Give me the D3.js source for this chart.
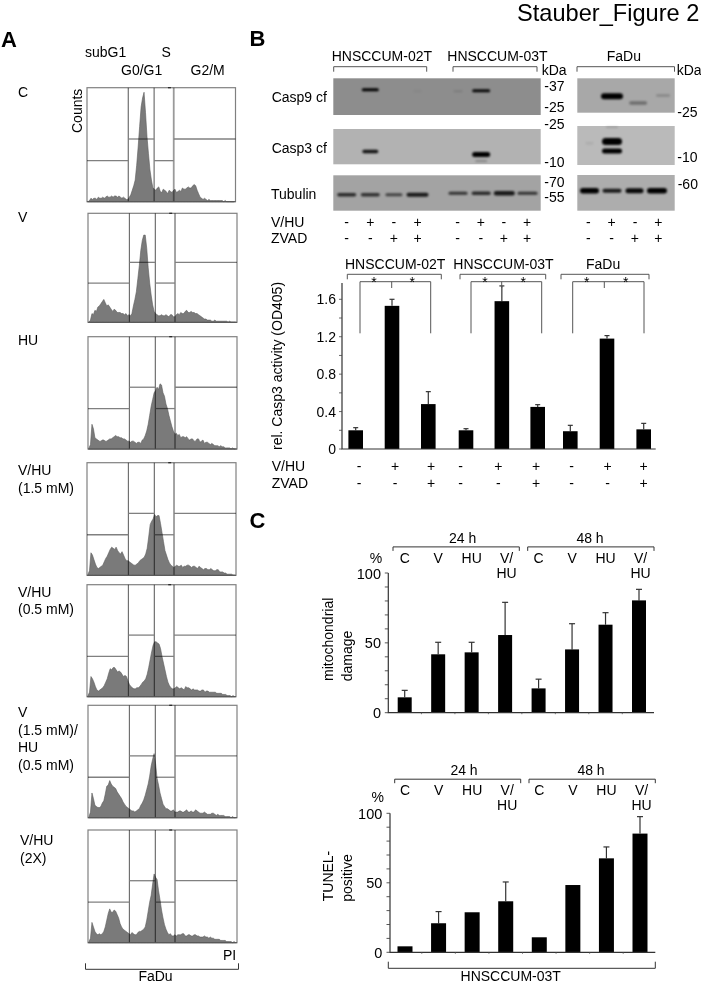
<!DOCTYPE html>
<html><head><meta charset="utf-8">
<script src="https://cdn.jsdelivr.net/npm/d3@7"></script>
<style>
html,body{margin:0;padding:0;background:#fff}
svg{display:block;filter:blur(0.3px)}
text{font-family:"Liberation Sans",Arial,sans-serif;fill:#000}
</style></head><body>
<svg id="fig" width="701" height="984"></svg>
<script>
// ---------- Panel A: PI histograms (counts, % of panel height; 100 channels) ----------
const flowNames = ["C","V","HU","V/HU (1.5 mM)","V/HU (0.5 mM)","V (1.5 mM)/HU (0.5 mM)","V/HU (2X)"];
const histC   = [0,1,3,2,3,3,2,4,3,3,4,3,4,5,4,4,5,4,5,5,4,5,4,3,4,3,2,2,4,6,10,14,19,32,48,66,83,91,96,78,57,42,28,19,12,11,10,12,13,9,8,11,10,9,7,10,9,8,10,11,8,9,10,9,12,11,11,12,13,12,12,14,15,14,10,7,4,3,2,3,2,1,2,1,1,1,1,1,1,1,1,1,0,1,0,0,0,0,0,0];
const histV   = [0,2,8,7,11,10,14,15,17,19,21,18,15,16,14,12,10,12,11,9,9,9,8,8,7,8,6,7,6,8,15,21,28,40,52,66,75,80,80,68,50,36,25,16,10,8,7,6,6,7,6,6,7,6,5,7,7,5,5,7,8,7,9,8,8,10,11,9,9,10,9,9,8,8,7,6,5,4,3,3,2,2,2,1,1,2,1,1,1,1,1,1,1,1,0,1,0,0,0,0];
const histHU  = [1,4,22,18,10,9,8,7,7,8,8,7,7,8,9,9,10,11,12,11,11,10,10,9,9,8,7,7,6,7,7,6,5,6,6,5,8,9,12,16,22,30,38,44,50,52,55,53,58,57,50,47,40,36,30,25,20,16,13,14,12,13,10,11,11,10,11,9,8,9,9,7,7,9,9,6,7,8,5,6,6,5,4,5,4,3,3,3,2,3,2,2,1,1,1,1,0,1,0,0];
const histVH15= [1,4,20,18,14,10,7,6,7,8,9,12,15,17,20,23,25,24,23,25,22,20,19,21,18,15,13,13,12,11,10,9,9,10,11,13,14,15,16,19,24,34,45,48,50,54,52,53,53,46,38,30,22,18,14,11,9,8,7,8,9,8,8,9,7,8,8,9,9,8,7,8,8,7,6,8,7,6,5,6,6,5,5,6,5,4,4,5,5,3,3,3,2,2,1,1,1,1,0,0];
const histVH05= [1,4,18,16,13,9,6,5,6,7,8,10,13,16,21,25,24,26,26,24,22,23,22,20,18,19,18,14,11,9,8,7,7,8,8,9,11,13,14,16,20,26,33,40,46,49,49,48,47,43,36,30,24,18,13,10,8,7,7,8,9,8,7,8,7,6,9,8,8,7,6,7,6,6,6,5,5,6,6,4,5,5,4,4,4,4,4,3,3,3,3,2,2,2,1,1,1,0,1,0];
const histV15H= [1,5,22,17,11,10,9,9,10,13,15,21,28,29,33,30,28,27,26,23,21,19,17,14,12,10,9,8,7,6,6,5,6,7,8,11,13,16,20,25,30,37,46,52,57,48,35,29,22,17,12,10,8,8,7,6,6,7,5,5,5,6,6,5,5,6,7,5,5,6,5,5,7,6,5,4,4,4,5,4,3,3,3,4,4,3,2,3,2,2,2,2,1,1,1,1,0,1,0,0];
const hist2X  = [1,4,18,14,10,8,7,8,7,8,10,14,20,26,30,27,27,29,28,25,22,17,14,12,11,10,9,8,7,9,8,7,7,9,10,10,11,12,14,20,28,36,42,52,61,58,56,46,38,29,22,16,12,9,7,8,6,6,7,6,7,7,7,8,8,6,6,7,7,6,6,7,7,6,6,5,5,5,6,5,5,4,5,4,4,3,3,3,3,2,2,2,2,1,1,1,1,0,1,0];
const gateHeights = [36,55,36,55];   // subG1, G0/G1, S, G2/M marker heights
const gateEdges = [0,27.8,45.2,58.4,100]; // % of PI axis
// ---------- Panel B: blots ----------
const laneSignsVH = ["-","+","-","+"];
const laneSignsZ  = ["-","-","+","+"];
const casp9Bands = [[0,1,0.31,17,3,1],[0,3,0.35,8,2,0.06],[1,0,0.35,9,2,0.12],[1,1,0.34,18,3,0.95],[2,1,0.52,22,6,1],[2,2.16,0.72,18,3.5,0.35],[2,3.27,0.5,14,2.5,0.2]];
const casp3Bands = [[0,1,0.64,16,3.5,0.9],[1,1,0.72,18,5,1],[1,1,0.91,12,2,0.25],[2,1,0.4,20,7,1],[2,1,0.64,20,5,1],[2,0,0.44,8,3,0.07],[2,1,0.03,12,1.5,0.18]];
const tubBands = [[0,0,0.55,19,3.5,0.75],[0,1,0.55,19,3.5,0.7],[0,2,0.55,17,3,0.6],[0,3,0.55,22,4,0.85],
 [1,0,0.51,19,3,0.7],[1,1,0.51,19,3.5,0.75],[1,2,0.51,21,4.5,0.85],[1,3,0.51,20,3,0.7],
 [2,0,0.44,19,5.5,1],[2,1,0.44,19,4,0.85],[2,2,0.44,18,5,0.95],[2,3,0.44,20,5.5,1]];
// ---------- Panel B: caspase-3 activity ----------
const activityGroups = ["HNSCCUM-02T","HNSCCUM-03T","FaDu"];
const activityValues = [[0.20,1.53,0.48],[0.20,1.58,0.45],[0.19,1.18,0.21]];
const activityErrors = [[0.228,1.60,0.613],[0.217,1.743,0.474],[0.253,1.212,0.274]];
const activitySignsVH = ["-","+","+"];
const activitySignsZ  = ["-","-","+"];
const activityTicks = [0,0.4,0.8,1.2,1.6];
// ---------- Panel C ----------
const treatments = ["C","V","HU","V/HU"];
const timeGroups = ["24 h","48 h"];
const mitoValues = [11,41.8,43.2,55.6,17.4,45.3,63,80.4];
const mitoErrors = [16,50.4,50.4,79,24,63.7,71.6,88.3];
const tunelValues = [4.3,20.9,28.8,36.7,10.8,48.4,67.6,85.4];
const tunelErrors = [null,29.3,null,50.6,null,null,75.8,97.6];
const percentTicks = [0,50,100];

const svg = d3.select("#fig");
function T(g,x,y,s,o={}){
  const t=g.append("text").attr("x",x).attr("y",y).attr("font-size",o.size||14).text(s);
  if(o.anchor)t.attr("text-anchor",o.anchor);
  if(o.weight)t.attr("font-weight",o.weight);
  if(o.rot!==undefined)t.attr("transform",`rotate(${o.rot} ${x} ${y})`);
  return t;
}
function path(g,pts,c="#4a4a4a",w=1){
  return g.append("path").attr("d",d3.line()(pts)).attr("fill","none").attr("stroke",c).attr("stroke-width",w);
}
function bracketDown(g,x0,x1,y,h,c="#555",w=1){path(g,[[x0,y+h],[x0,y],[x1,y],[x1,y+h]],c,w);}

// title + letters
T(svg,517,21.4,"Stauber_Figure 2",{size:23.6});
T(svg,1,46.5,"A",{size:22,weight:"bold"});
T(svg,249.5,45.5,"B",{size:22,weight:"bold"});
T(svg,249.5,528,"C",{size:22,weight:"bold"});

// ---------- A ----------
const A=svg.append("g");
const flowHist=[histC,histV,histHU,histVH15,histVH05,histV15H,hist2X];
const flowBox=[[87,235.5,87.7,201.7],[88,237,213.3,322.3],[88,237,336.7,449],[87,236,462.7,575.3],[87,236,584.7,696.7],[88,237,705.3,817.7],[88,237,830,942.7]];
const gateColor=["#707070","#707070","#9a9a9a"], gateWidth=[1.2,1.2,1.8];
flowHist.forEach((h,i)=>{
  const [x0,x1,y0,y1]=flowBox[i];
  const x=d3.scaleLinear().domain([0,h.length]).range([x0+1,x1]);
  const gx=d3.scaleLinear().domain([0,100]).range([x0,x1]);
  const y=d3.scaleLinear().domain([0,100]).range([y1,y0]);
  const g=A.append("g").attr("aria-label",flowNames[i]);
  g.append("rect").attr("x",x0).attr("y",y0).attr("width",x1-x0).attr("height",y1-y0).attr("fill","#fff").attr("stroke","#808080").attr("stroke-width",1.2);
  g.append("path").datum(h).attr("d",d3.area().x((d,k)=>x(k)).y0(y1).y1(d=>y(d))).attr("fill","#7a7a7a").attr("stroke","#5c5c5c").attr("stroke-width",0.6);
  const gl=g.append("g").style("mix-blend-mode","multiply");
  gateEdges.slice(1,4).forEach((e,k)=>path(gl,[[gx(e),y0],[gx(e),y1]],gateColor[k],gateWidth[k]));
  gateHeights.forEach((v,k)=>path(gl,[[gx(gateEdges[k]),y(v)],[gx(gateEdges[k+1]),y(v)]],"#808080",1.3));
  path(g,[[x0,y1],[x1,y1]],"#555",1);
  path(g,[[gx(54.5),y0],[gx(56.5),y0]],"#222",1.2);
});
const leftLabels=[[18,97,"C"],[18,222,"V"],[18,345,"HU"],[18,475,"V/HU"],[18,492.7,"(1.5 mM)"],[18,596.7,"V/HU"],[18,614,"(0.5 mM)"],[18,716.7,"V"],[18,735,"(1.5 mM)/"],[18,752.3,"HU"],[18,770,"(0.5 mM)"],[20,845,"V/HU"],[20,862.7,"(2X)"]];
leftLabels.forEach(d=>T(A,d[0],d[1],d[2]));
T(A,81.5,133,"Counts",{rot:-90});
T(A,85,56.7,"subG1");T(A,121,75,"G0/G1");T(A,161.5,56.7,"S");T(A,190.5,75,"G2/M");
T(A,223,960,"PI");
path(A,[[85.5,963.3],[85.5,969.3],[238.5,969.3],[238.5,963.3]],"#333",1);
T(A,155.5,980.8,"FaDu",{anchor:"middle"});

// ---------- B blots ----------
const B=svg.append("g");
const defs=svg.append("defs");
defs.append("filter").attr("id","bandBlur").attr("x","-30%").attr("y","-80%").attr("width","160%").attr("height","260%")
  .append("feGaussianBlur").attr("stdDeviation",0.8);
const membranes=[{x0:333.3,x1:540.7,rows:[[78.3,115,"#8d8d8d"],[129,164.3,"#b2b2b2"],[175.3,210.7,"#a3a3a3"]]},
                 {x0:577.3,x1:674.7,rows:[[78.3,112.7,"#a8a8a8"],[126,165,"#bababa"],[175,210.7,"#adadad"]]}];
membranes.forEach(m=>m.rows.forEach(r=>B.append("rect").attr("x",m.x0).attr("y",r[0]).attr("width",m.x1-m.x0).attr("height",r[1]-r[0]).attr("fill",r[2])));
const laneX=[d3.scaleLinear().domain([0,3]).range([346.7,417.5]),
             d3.scaleLinear().domain([0,3]).range([458,527.5]),
             d3.scaleLinear().domain([0,3]).range([589.5,657])];
function drawBands(bands,rowIdx){
  const g=B.append("g").attr("filter","url(#bandBlur)");
  bands.forEach(([grp,lane,mob,w,t,s])=>{
    const row=membranes[grp===2?1:0].rows[rowIdx];
    const yS=d3.scaleLinear().domain([0,1]).range([row[0],row[1]]);
    g.append("rect").attr("x",laneX[grp](lane)-w/2).attr("y",yS(mob)-t/2).attr("width",w).attr("height",t)
      .attr("rx",t/2).attr("fill","#000").attr("opacity",s);
  });
}
drawBands(casp9Bands,0);drawBands(casp3Bands,1);drawBands(tubBands,2);
T(B,331.7,60.7,"HNSCCUM-02T");T(B,447.3,60.7,"HNSCCUM-03T");T(B,606.7,60.7,"FaDu");
bracketDown(B,333.7,426.7,66.7,5);bracketDown(B,453,537,66.7,5);bracketDown(B,577,674.5,66.7,5);
T(B,541.7,75,"kDa");T(B,676.7,75,"kDa");
[[544.3,90.7,"-37"],[544.3,112.3,"-25"],[544.3,129.3,"-25"],[544.3,166.7,"-10"],[544.3,187.3,"-70"],[544.3,201.7,"-55"],
 [677.3,116.7,"-25"],[677.3,162.3,"-10"],[677.7,189.3,"-60"]].forEach(d=>T(B,d[0],d[1],d[2]));
T(B,271.7,101.7,"Casp9 cf");T(B,271.7,153.3,"Casp3 cf");T(B,271,199.3,"Tubulin");
T(B,271,226.7,"V/HU");T(B,271,243.3,"ZVAD");
const signX=[d3.scaleLinear().domain([0,3]).range([346.7,417.5]),d3.scaleLinear().domain([0,3]).range([457.7,527]),d3.scaleLinear().domain([0,3]).range([588.3,658.3])];
signX.forEach(s=>{
  laneSignsVH.forEach((c,i)=>T(B,s(i),226.7,c,{anchor:"middle"}));
  laneSignsZ.forEach((c,i)=>T(B,s(i),243.3,c,{anchor:"middle"}));
});

// ---------- B activity ----------
const yAct=d3.scaleLinear().domain([0,1.6]).range([449,299.3]);
const C1=svg.append("g");
const groupX=[[355.7,428.3],[466,537.7],[570.3,643.7]];
const signGroupX=[[359,431],[460.7,536],[571.7,643.7]];
function errorBar(g,x,yTop,yBase,cap=5){
  path(g,[[x,yBase],[x,yTop]],"#333",1.2);
  path(g,[[x-cap/2,yTop],[x+cap/2,yTop]],"#333",1.2);
}
activityGroups.forEach((name,gi)=>{
  const x=d3.scalePoint().domain([0,1,2]).range(groupX[gi]);
  const sx=d3.scalePoint().domain([0,1,2]).range(signGroupX[gi]);
  activityValues[gi].forEach((v,i)=>{
    errorBar(C1,x(i),yAct(activityErrors[gi][i]),yAct(v));
    C1.append("rect").attr("x",x(i)-7.3).attr("y",yAct(v)).attr("width",14.6).attr("height",yAct(0)-yAct(v)).attr("fill","#000");
    T(C1,sx(i),471,activitySignsVH[i],{anchor:"middle"});
    T(C1,sx(i),488.3,activitySignsZ[i],{anchor:"middle"});
  });
});
path(C1,[[342,283],[342,449],[655.7,449]],"#333",1.2);
d3.range(0,1.8,0.2).forEach(v=>path(C1,[[339,yAct(v)],[342,yAct(v)]],"#444",0.8));
activityTicks.forEach(v=>T(C1,336,yAct(v)+5,v===0?"0":d3.format(".1f")(v),{anchor:"end"}));
T(C1,281.7,450,"rel. Casp3 activity (OD405)",{rot:-90});
T(C1,345,269.3,"HNSCCUM-02T");T(C1,453.3,269.3,"HNSCCUM-03T");T(C1,586,269.3,"FaDu");
bracketDown(C1,347.3,441.3,274.3,5);bracketDown(C1,460,545.7,274.3,5);bracketDown(C1,561,649,274.3,5);
[[360,391.7,430.7],[471,501.7,541.7],[572.7,604.3,644]].forEach(([a,m,b])=>{
  path(C1,[[a,333.3],[a,281.7],[b,281.7],[b,333.3]],"#555",1);
  path(C1,[[m,281.7],[m,288]],"#555",1);
});
[374,412.3,485,523.3,586.7,625.7].forEach(x=>T(C1,x,287,"*",{anchor:"middle"}));
T(C1,271.7,471,"V/HU");T(C1,271.7,488.3,"ZVAD");

// ---------- C charts ----------
function percentChart(o){
  const g=svg.append("g");
  const y=d3.scaleLinear().domain([0,100]).range([o.y0,o.y100]);
  const x=d3.scaleLinear().domain([0,7]).range(o.xRange);
  o.values.forEach((v,i)=>{
    if(o.errors[i]!=null)errorBar(g,x(i),y(o.errors[i]),y(v),6);
    g.append("rect").attr("x",x(i)-o.bw/2).attr("y",y(v)).attr("width",o.bw).attr("height",y(0)-y(v)).attr("fill","#000");
  });
  path(g,[[o.ax,y(100)],[o.ax,y(0)],[o.xEnd,y(0)]],"#333",1.2);
  d3.range(0,101,10).forEach(v=>path(g,[[o.ax-3.5,y(v)],[o.ax,y(v)]],"#444",0.9));
  d3.range(1,8).forEach(i=>{const mx=x(i-0.5);path(g,[[mx,y(0)],[mx,y(0)+1.5]],"#555",0.8);});
  percentTicks.forEach(v=>T(g,o.lblX,y(v)+5.5,String(v),{anchor:"end",size:14.5}));
  T(g,o.pctX,o.pctY,"%",{anchor:"middle"});
  timeGroups.forEach((t,k)=>{
    T(g,o.timeX[k],o.timeY,t,{anchor:"middle"});
    bracketDown(g,o.brackets[k][0],o.brackets[k][1],o.timeY+4.2,4,"#333",1);
    treatments.forEach((c,i)=>{
      const cx=x(k*4+i)+(i===3?1.5:0);
      if(c==="V/HU"){
        T(g,cx,o.catY,"V/",{anchor:"middle"});
        T(g,cx,o.catY+15.3,"HU",{anchor:"middle"});
      } else T(g,cx,o.catY,c,{anchor:"middle"});
    });
  });
  return g;
}
const gMito=percentChart({values:mitoValues,errors:mitoErrors,y0:712.7,y100:573,xRange:[404.7,639],bw:14,ax:388.3,xEnd:654,lblX:381,pctX:376,pctY:562.7,timeX:[462.7,590],timeY:542.7,brackets:[[393,519.3],[527.7,654]],catY:562.7});
T(gMito,333.3,639.3,"mitochondrial",{rot:-90,anchor:"middle"});
T(gMito,351.7,656,"damage",{rot:-90,anchor:"middle"});
const gTun=percentChart({values:tunelValues,errors:tunelErrors,y0:952.3,y100:813.3,xRange:[405,640],bw:15,ax:390,xEnd:655.3,lblX:382.3,pctX:377.7,pctY:801.7,timeX:[464,591],timeY:775,brackets:[[394.7,520.7],[529,655.3]],catY:795});
T(gTun,333.3,876,"TUNEL-",{rot:-90,anchor:"middle"});
T(gTun,351.7,878,"positive",{rot:-90,anchor:"middle"});
path(gTun,[[388.3,961.7],[388.3,968.3],[655.3,968.3],[655.3,961.7]],"#333",1);
T(gTun,510.7,980.8,"HNSCCUM-03T",{anchor:"middle"});
</script>
</body></html>
